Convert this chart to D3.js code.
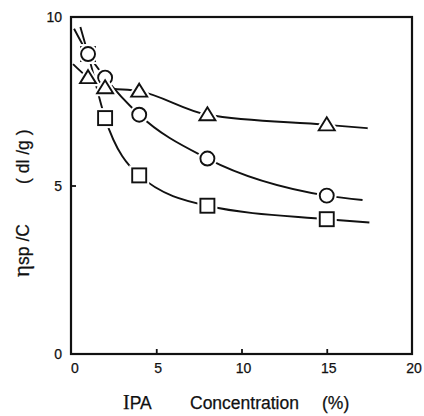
<!DOCTYPE html>
<html>
<head>
<meta charset="utf-8">
<script src="https://cdn.jsdelivr.net/npm/d3@7"></script>
<style>
  html, body { margin: 0; padding: 0; background: #fff; }
  svg { display: block; }
  text { font-family: "Liberation Sans", Arial, sans-serif; fill: #111; stroke: #111; stroke-width: 0.25px; }
</style>
</head>
<body>
<svg id="chart" width="424" height="416"></svg>
<script>
// IPA concentration (%) at which reduced viscosity was measured
const concentration = [1, 2, 4, 8, 15];

// Reduced viscosity ηsp/C (dl/g) for three polymer samples
const circleValues   = [8.9, 8.2, 7.1, 5.8, 4.7];
const triangleValues = [8.2, 7.9, 7.8, 7.1, 6.8];
const squareValues   = [8.9, 7.0, 5.3, 4.4, 4.0];

// Ends of the smoothed guide curves beyond the measured range [x, y]
const circleCurveEnds   = [[0.18, 9.65], [17.1, 4.57]];
const triangleCurveEnds = [[0.12, 8.6],  [17.4, 6.7]];
const squareCurveEnds   = [[0.55, 9.7],  [17.5, 3.9]];

const xTicks = [0, 5, 10, 15, 20];
const yTicks = [0, 5, 10];

const svg = d3.select("#chart");
const x = d3.scaleLinear().domain([0, 20]).range([71, 412]);
const y = d3.scaleLinear().domain([0, 10]).range([354, 17]);

const ink = "#111";

// Guide curves
const line = d3.line()
  .x(d => x(d[0]))
  .y(d => y(d[1]))
  .curve(d3.curveMonotoneX);

function curvePoints(values, ends) {
  return [ends[0], ...concentration.map((c, i) => [c, values[i]]), ends[1]];
}

// Drawing order: squares underneath, then circles, then triangles on top
const series = [
  { values: squareValues,   ends: squareCurveEnds,   shape: "square" },
  { values: circleValues,   ends: circleCurveEnds,   shape: "circle" },
  { values: triangleValues, ends: triangleCurveEnds, shape: "triangle" }
];

series.forEach(s => {
  svg.append("path")
    .attr("d", line(curvePoints(s.values, s.ends)))
    .attr("fill", "none")
    .attr("stroke", ink)
    .attr("stroke-width", 1.9);
});

// Markers: a white halo first so the curve breaks around each symbol
function drawMarker(g, shape, cx, cy, halo) {
  const fill = "#fff";
  const stroke = halo ? "#fff" : ink;
  const sw = halo ? 6 : 1.9;
  if (shape === "circle") {
    g.append("circle").attr("cx", cx).attr("cy", cy).attr("r", 7)
      .attr("fill", fill).attr("stroke", stroke).attr("stroke-width", sw);
  } else if (shape === "square") {
    g.append("rect").attr("x", cx - 7).attr("y", cy - 7)
      .attr("width", 14).attr("height", 14)
      .attr("fill", fill).attr("stroke", stroke).attr("stroke-width", sw);
  } else {
    const p = [[cx, cy - 7.5], [cx + 8, cy + 5.5], [cx - 8, cy + 5.5]];
    g.append("path").attr("d", "M" + p.join("L") + "Z")
      .attr("fill", fill).attr("stroke", stroke).attr("stroke-width", sw)
      .attr("stroke-linejoin", "miter");
  }
}

const marks = svg.append("g");
series.forEach(s => {
  ["halo", "mark"].forEach(layer => {
    concentration.forEach((c, i) => {
      drawMarker(marks, s.shape, x(c), y(s.values[i]), layer === "halo");
    });
  });
});

// Plot frame
svg.append("rect")
  .attr("x", x(0)).attr("y", y(10))
  .attr("width", x(20) - x(0)).attr("height", y(0) - y(10))
  .attr("fill", "none").attr("stroke", ink).attr("stroke-width", 2.2);

// Inward ticks
const xAxis = d3.axisBottom(x).tickValues(xTicks.slice(1, -1)).tickSize(-5).tickFormat("");
svg.append("g").attr("transform", `translate(0,${y(0)})`).call(xAxis)
  .call(g => g.select(".domain").remove())
  .call(g => g.selectAll("line").attr("stroke", ink).attr("stroke-width", 1.8));
const yAxis = d3.axisLeft(y).tickValues(yTicks.slice(1, -1)).tickSize(-5).tickFormat("");
svg.append("g").attr("transform", `translate(${x(0)},0)`).call(yAxis)
  .call(g => g.select(".domain").remove())
  .call(g => g.selectAll("line").attr("stroke", ink).attr("stroke-width", 1.8));

// Tick labels
svg.append("g").selectAll("text").data(xTicks).join("text")
  .attr("x", d => x(d) + (d === 0 ? 4 : 2)).attr("y", y(0) + 19)
  .attr("text-anchor", "middle")
  .attr("font-size", 14)
  .text(d => d);
svg.append("g").selectAll("text").data(yTicks).join("text")
  .attr("x", x(0) - 9).attr("y", d => y(d) + 5)
  .attr("text-anchor", "end")
  .attr("font-size", 14)
  .text(d => d);

// X axis title, three words spaced apart
const xTitle = svg.append("g").attr("font-size", 17.5);
const ipa = xTitle.append("text").attr("x", 123).attr("y", 409);
ipa.append("tspan").attr("font-size", 20).attr("font-family", "Liberation Serif, serif").text("I");
ipa.append("tspan").text("PA");
xTitle.append("text").attr("x", 190).attr("y", 409).text("Concentration");
xTitle.append("text").attr("x", 322).attr("y", 409).text("(%)");

// Y axis title, rotated
const yTitle = svg.append("g").attr("font-size", 17.5);
const eta = yTitle.append("text").attr("transform", "translate(29,277) rotate(-90)");
eta.append("tspan").attr("font-size", 23).attr("font-family", "Liberation Serif, serif").text("η");
eta.append("tspan").text("sp /C");
yTitle.append("text").attr("transform", "translate(29,184) rotate(-90)")
  .attr("xml:space", "preserve").text("( dl /g )");
</script>
</body>
</html>
